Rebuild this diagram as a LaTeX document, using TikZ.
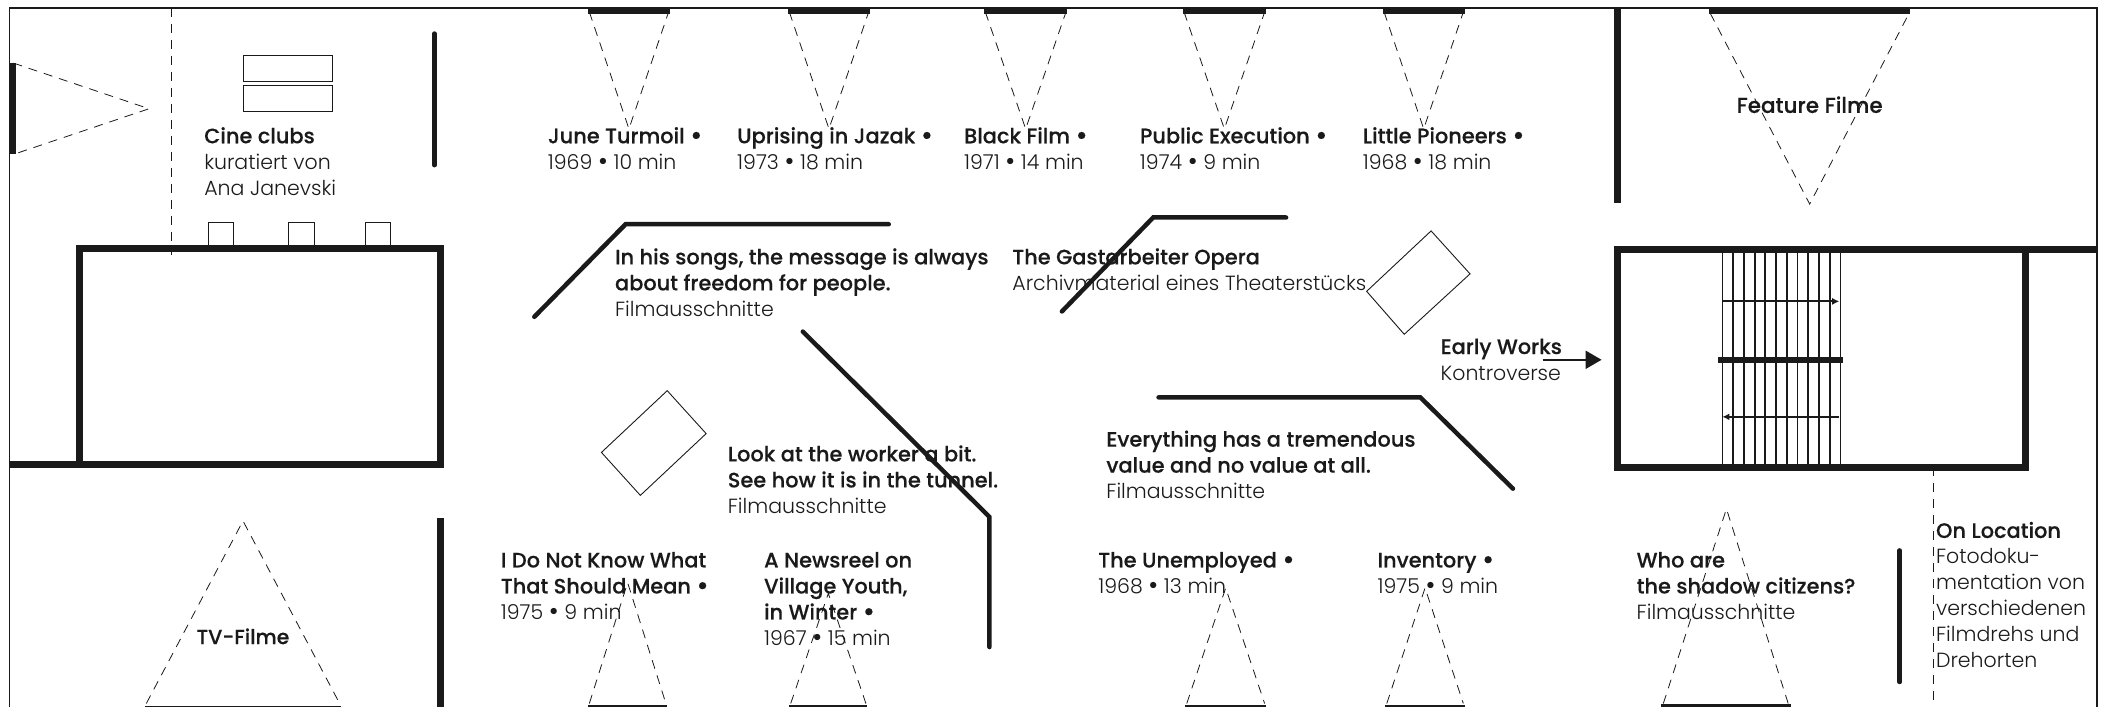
\documentclass[tikz,border=0pt]{standalone}
\usepackage{fontspec}
\setmainfont{Poppins}
\newfontfamily\hbf[FakeBold=0.25]{Poppins Medium}
\newfontfamily\hlf{Poppins Light}
\usetikzlibrary{arrows.meta}
\definecolor{ink}{HTML}{1A1A1A}
\newcommand{\hb}[1]{{\fontsize{20.9}{26}\selectfont\hbf\strut #1}}
\newcommand{\hl}[1]{{\fontsize{20.5}{26}\selectfont\hlf\strut #1}}
\newcommand{\bul}{\raisebox{-1.2pt}{\fontsize{27}{26}\selectfont •}}
\tikzset{
 x=1.3425pt,y=-1.3425pt,
 lab/.style={anchor=north west,inner sep=0pt,align=left,text=ink,font=\fontsize{20.5}{26}\selectfont},
 ctr/.style={inner sep=0pt,text=ink,font=\fontsize{21.5}{26}\selectfont},
 ctrs/.style={inner sep=0pt,text=ink,font=\fontsize{20.4}{26}\selectfont},
 frameline/.style={draw=ink,line width=1.4pt},
 wall/.style={draw=ink,line width=7pt,line cap=butt,line join=miter},
 bar/.style={draw=ink,line width=6pt},
 pillar/.style={draw=ink,line width=4.5pt,line cap=round,line join=miter},
 thin/.style={draw=ink,line width=0.9pt},
 sight/.style={draw=ink,line width=0.8pt,dash pattern=on 9pt off 7pt},
 rail/.style={draw=ink,line width=1.8pt},
}
\begin{document}
\begin{tikzpicture}
\useasboundingbox (0,0) rectangle (1568,526.6);
% frame
\draw[frameline] (7,527)--(7,6)--(1562,6)--(1562,527);
% left
\draw[bar] (9.5,47)--(9.5,115);
\draw[sight] (10,47)--(111,81)--(10,115);
\draw[sight] (128,6)--(128,190);
\draw[thin] (181,41.5) rectangle (248,61);
\draw[thin] (181,64) rectangle (248,83);
\foreach \a in {155,215,272} \draw[thin] (\a,166) rectangle (\a+19,185);
\draw[wall] (59,185) rectangle (328,346);
\draw[wall] (7,346)--(59,346);
\draw[pillar] (323.5,25)--(323.5,123);
% top cones
\foreach \a/\b in {438/499,587/648,733/795,881/943,1030/1091}{
 \draw[bar] (\a,8)--(\b,8);
 \draw[sight] (\a+1,9)--({(\a+\b)/2},96)--(\b-1,9);
}
\draw[wall] (1205,7)--(1205,151);
\draw[bar] (1273,8.5)--(1423,8.5);
\draw[sight] (1274,10)--(1348,152)--(1422,10);
% right room
\draw[wall] (1205,186) rectangle (1509,348);
\draw[wall] (1509,186)--(1562,186);
\foreach \i in {0,...,11} \draw[rail] ({1283+\i*8},187)--({1283+\i*8},347);
\draw[bar] (1280,268)--(1373,268);
\draw[rail,-{Latex[length=7pt,width=7pt]}] (1283,224.5)--(1370,224.5);
\draw[rail,-{Latex[length=7pt,width=7pt]}] (1370,310.5)--(1283,310.5);
\draw[draw=ink,line width=2pt,-{Triangle[length=16pt,width=18pt]}] (1149,268)--(1193,268);
\draw[sight] (1440,348)--(1440,527);
% freestanding walls
\draw[pillar] (398,236)--(466,167)--(662,167);
\draw[pillar] (791,232)--(859,162)--(958,162);
\draw[pillar] (598,247)--(737,385)--(737,482);
\draw[pillar] (863,296)--(1058,296)--(1127,364);
\draw[pillar] (1415,410)--(1415,508);
% screens
\draw[thin] (1066,172)--(1095,204)--(1046,249)--(1018,217)--cycle;
\draw[thin] (497,291)--(526,323)--(477,369)--(448,337)--cycle;
% bottom
\draw[thin] (108,526)--(254,526);
\draw[sight] (109,524)--(181,388)--(253,524);
\draw[wall] (328,386)--(328,527);
\foreach \a/\b/\t in {438/497/434,588/646/442,883/943/438,1032/1091/438}{
 \draw[draw=ink,line width=3pt] (\a,526)--(\b,526);
 \draw[sight] (\a+1,524)--({(\a+\b)/2},\t)--(\b-1,524);
}
\draw[draw=ink,line width=3.5pt] (1237,526)--(1334,526);
\draw[sight] (1239,524)--(1286,379)--(1332,524);
% text
\node[lab] (t1) at (152,93) {\hb{Cine clubs}\\\hl{kuratiert von}\\\hl{Ana Janevski}};
\node[lab] (t2) at (408,93) {\hb{June Turmoil \bul}\\\hl{1969 \bul{} 10 min}};
\node[lab] (t3) at (549,93) {\hb{Uprising in Jazak \bul}\\\hl{1973 \bul{} 18 min}};
\node[lab] (t4) at (718,93) {\hb{Black Film \bul}\\\hl{1971 \bul{} 14 min}};
\node[lab] (t5) at (849,93) {\hb{Public Execution \bul}\\\hl{1974 \bul{} 9 min}};
\node[lab] (t6) at (1015,93) {\hb{Little Pioneers \bul}\\\hl{1968 \bul{} 18 min}};
\node[lab] (t7) at (458,183.2) {\hb{In his songs, the message is always}\\\hb{about freedom for people.}\\\hl{Filmausschnitte}};
\node[lab] (t8) at (754,183.2) {\hb{The Gastarbeiter Opera}\\\hl{Archivmaterial eines Theaterstücks}};
\node[lab] (t9) at (1073,250) {\hb{Early Works}\\\hl{Kontroverse}};
\node[lab] (t10) at (542,330) {\hb{Look at the worker a bit.}\\\hb{See how it is in the tunnel.}\\\hl{Filmausschnitte}};
\node[lab] (t11) at (824,319) {\hb{Everything has a tremendous}\\\hb{value and no value at all.}\\\hl{Filmausschnitte}};
\node[lab] (t12) at (373,409) {\hb{I Do Not Know What}\\\hb{That Should Mean \bul}\\\hl{1975 \bul{} 9 min}};
\node[lab] (t13) at (569,409) {\hb{A Newsreel on}\\\hb{Village Youth,}\\\hb{in Winter \bul}\\\hl{1967 \bul{} 15 min}};
\node[lab] (t14) at (818,409) {\hb{The Unemployed \bul}\\\hl{1968 \bul{} 13 min}};
\node[lab] (t15) at (1026,409) {\hb{Inventory \bul}\\\hl{1975 \bul{} 9 min}};
\node[lab] (t16) at (1219,409) {\hb{Who are}\\\hb{the shadow citizens?}\\\hl{Filmausschnitte}};
\node[lab] (t17) at (1442,387) {\hb{On Location}\\\hl{Fotodoku-}\\\hl{mentation von}\\\hl{verschiedenen}\\\hl{Filmdrehs und}\\\hl{Drehorten}};
\node[ctr] (t18) at (1348,78) {\hbf Feature Filme};
\node[ctrs] (t19) at (181,474) {\hbf TV-Filme};
\end{tikzpicture}
\end{document}
